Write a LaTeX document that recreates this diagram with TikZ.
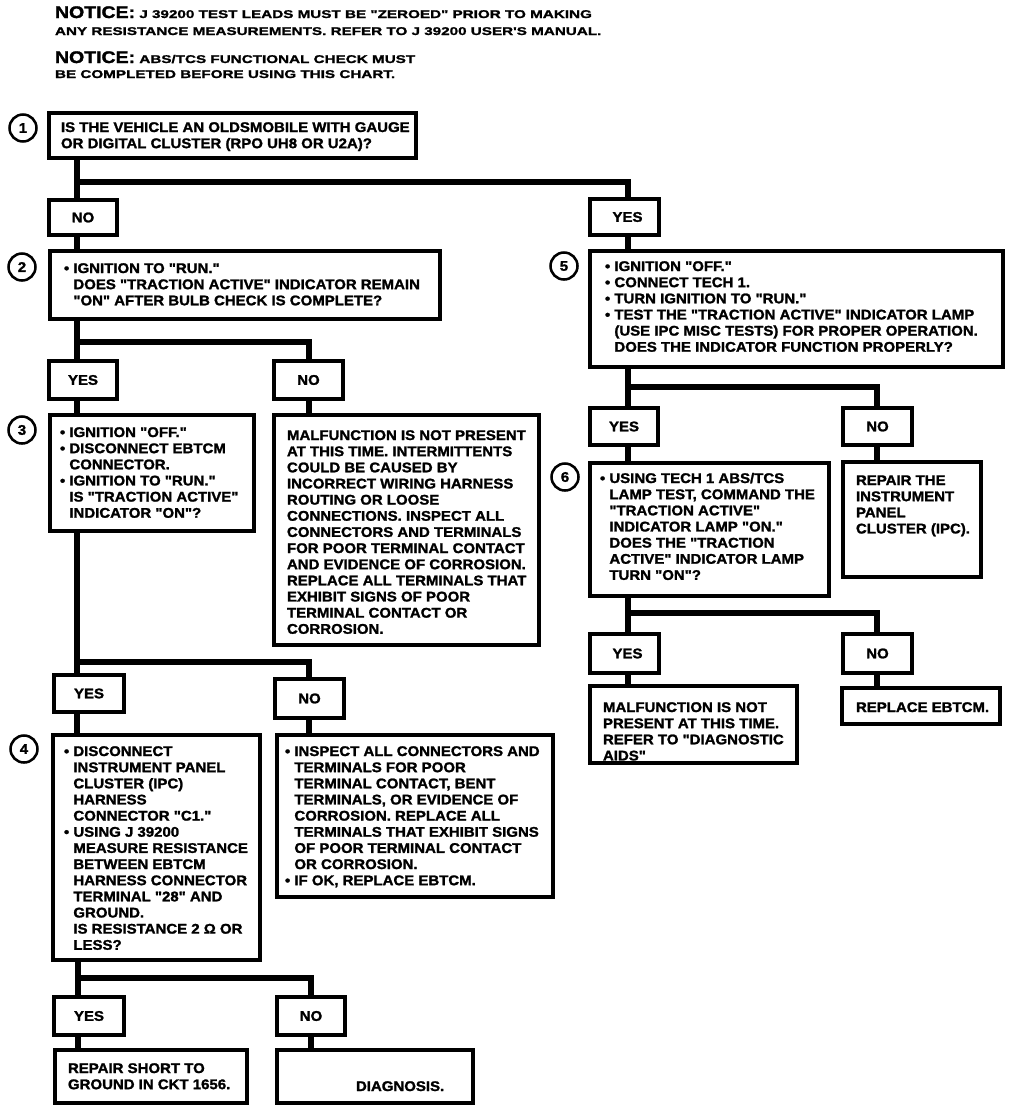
\documentclass[tikz,border=0pt]{standalone}
\usepackage{fontspec}
\newfontfamily\bodyf{Liberation Sans}[UprightFont=* Bold, FakeStretch=1.07, FakeBold=1.6]
\newfontfamily\ntbig{Liberation Sans}[UprightFont=* Bold, FakeStretch=1.16, FakeBold=1.8]
\newfontfamily\ntsm{Liberation Sans}[UprightFont=* Bold, FakeStretch=1.36, FakeBold=1.4]
\newdimen\px \px=0.75pt
\newcommand\bodyfont{\bodyf\fontsize{10.5}{12.11}\selectfont}
\newcommand\bigf{\ntbig\fontsize{12.6}{14}\selectfont}
\newcommand\smallf{\ntsm\fontsize{8.4}{10}\selectfont}
\newcommand\cind{\phantom{• }}
% width, height, left pad, first-baseline offset, lines
\newcommand\bxt[5]{\parbox[c][#2\px][t]{#1\px}{\bodyfont\vspace*{\dimexpr#4\px-0.7\baselineskip\relax}\hspace*{#3\px}\begin{tabular}[t]{@{}l@{}}#5\end{tabular}}}
\tikzset{
  box/.style={draw, line width=2.6pt, inner sep=0pt, outer sep=0pt, anchor=north west},
  lab/.style 2 args={draw, line width=2.6pt, inner sep=0pt, outer sep=0pt, anchor=north west, minimum width=#1*0.75pt, minimum height=#2*0.75pt, font=\bodyfont},
  conn/.style={line width=3.9pt},
  num/.style={circle, draw, line width=1.9pt, minimum size=27*0.75pt, inner sep=0pt, font=\bodyfont},
  ntext/.style={anchor=base west, inner sep=0pt, outer sep=0pt}
}
\begin{document}
\begin{tikzpicture}[x=0.75pt, y=-0.75pt]
\useasboundingbox[fill=white] (0,0) rectangle (1024,1110);

% notices
\node[ntext] (nt1) at (55,18) {\bigf NOTICE:\smallf\ J 39200 TEST LEADS MUST BE "ZEROED" PRIOR TO MAKING};
\node[ntext] (nt2) at (55,35) {\smallf ANY RESISTANCE MEASUREMENTS. REFER TO J 39200 USER'S MANUAL.};
\node[ntext] (nt3) at (55,63) {\bigf NOTICE:\smallf\ ABS/TCS FUNCTIONAL CHECK MUST};
\node[ntext] (nt4) at (55,78) {\smallf BE COMPLETED BEFORE USING THIS CHART.};

% left column
\node[num] (c1) at (23,128) {1};
\node[box] (b1) at (49,113) {\bxt{367}{45}{12}{19}{IS THE VEHICLE AN OLDSMOBILE WITH GAUGE\\OR DIGITAL CLUSTER (RPO UH8 OR U2A)?}};
\node[lab={68}{35}] (n1) at (49,200) {NO};
\node[lab={69}{36}] (y1) at (590,199) {\hspace{6\px}YES};

\node[num] (c2) at (22,267) {2};
\node[box] (b2) at (50,251) {\bxt{390}{68}{14}{22}{• IGNITION TO "RUN."\\\cind DOES "TRACTION ACTIVE" INDICATOR REMAIN\\\cind "ON" AFTER BULB CHECK IS COMPLETE?}};
\node[lab={68}{38}] (y2) at (49,361) {YES};
\node[lab={69}{38}] (n2) at (274,361) {NO\hspace{16\px}};

\node[num] (c3) at (22,430) {3};
\node[box] (b3) at (50,415) {\bxt{204}{116}{10}{22}{• IGNITION "OFF."\\• DISCONNECT EBTCM\\\cind CONNECTOR.\\• IGNITION TO "RUN."\\\cind IS "TRACTION ACTIVE"\\\cind INDICATOR "ON"?}};
\node[box] (m1) at (274,415) {\bxt{265}{230}{13}{25}{MALFUNCTION IS NOT PRESENT\\AT THIS TIME. INTERMITTENTS\\COULD BE CAUSED BY\\INCORRECT WIRING HARNESS\\ROUTING OR LOOSE\\CONNECTIONS. INSPECT ALL\\CONNECTORS AND TERMINALS\\FOR POOR TERMINAL CONTACT\\AND EVIDENCE OF CORROSION.\\REPLACE ALL TERMINALS THAT\\EXHIBIT SIGNS OF POOR\\TERMINAL CONTACT OR\\CORROSION.}};

\node[lab={70}{37}] (y3) at (54,675) {YES};
\node[lab={69}{39}] (n3) at (275,679) {NO\hspace{6\px}};

\node[num] (c4) at (24,749) {4};
\node[box] (b4) at (53,735) {\bxt{207}{225}{11}{21}{• DISCONNECT\\\cind INSTRUMENT PANEL\\\cind CLUSTER (IPC)\\\cind HARNESS\\\cind CONNECTOR "C1."\\• USING J 39200\\\cind MEASURE RESISTANCE\\\cind BETWEEN EBTCM\\\cind HARNESS CONNECTOR\\\cind TERMINAL "28" AND\\\cind GROUND.\\\cind IS RESISTANCE 2 Ω OR\\\cind LESS?}};
\node[box] (i1) at (277,735) {\bxt{276}{162}{8}{21}{• INSPECT ALL CONNECTORS AND\\\cind TERMINALS FOR POOR\\\cind TERMINAL CONTACT, BENT\\\cind TERMINALS, OR EVIDENCE OF\\\cind CORROSION. REPLACE ALL\\\cind TERMINALS THAT EXHIBIT SIGNS\\\cind OF POOR TERMINAL CONTACT\\\cind OR CORROSION.\\• IF OK, REPLACE EBTCM.}};

\node[lab={70}{38}] (y4) at (54,997) {YES};
\node[lab={68}{38}] (n4) at (277,997) {NO\hspace{8\px}};
\node[box] (r1) at (55,1050) {\bxt{192}{53}{13}{23}{REPAIR SHORT TO\\GROUND IN CKT 1656.}};
\node[box] (d1) at (277,1050) {\bxt{196}{53}{79}{41}{DIAGNOSIS.}};

% right column
\node[num] (c5) at (564,266) {5};
\node[box] (b5) at (590,251) {\bxt{413}{116}{15}{20}{• IGNITION "OFF."\\• CONNECT TECH 1.\\• TURN IGNITION TO "RUN."\\• TEST THE "TRACTION ACTIVE" INDICATOR LAMP\\\cind (USE IPC MISC TESTS) FOR PROPER OPERATION.\\\cind DOES THE INDICATOR FUNCTION PROPERLY?}};
\node[lab={68}{37}] (y5) at (590,408) {YES};
\node[lab={69}{37}] (n5) at (843,408) {NO\hspace{8\px}};

\node[num] (c6) at (565,477) {6};
\node[box] (b6) at (590,463) {\bxt{239}{133}{10}{20}{• USING TECH 1 ABS/TCS\\\cind LAMP TEST, COMMAND THE\\\cind "TRACTION ACTIVE"\\\cind INDICATOR LAMP "ON."\\\cind DOES THE "TRACTION\\\cind ACTIVE" INDICATOR LAMP\\\cind TURN "ON"?}};
\node[box] (ipc) at (843,462) {\bxt{138}{115}{13}{23}{REPAIR THE\\INSTRUMENT\\PANEL\\CLUSTER (IPC).}};

\node[lab={69}{39}] (y6) at (590,634) {\hspace{6\px}YES};
\node[lab={69}{39}] (n6) at (843,634) {NO\hspace{8\px}};
\node[box] (m2) at (590,686) {\bxt{207}{77}{13}{26}{MALFUNCTION IS NOT\\PRESENT AT THIS TIME.\\REFER TO "DIAGNOSTIC\\AIDS"}};
\node[box] (rep) at (842,688) {\bxt{158}{36}{14}{24}{REPLACE EBTCM.}};

% connectors
\coordinate (jA) at (77,182); \coordinate (jB) at (628,182);
\draw[conn] (b1.south -| jA) -- (n1.north -| jA);
\draw[conn] (jA) -- (jB) -- (y1.north -| jB);
\draw[conn] (n1.south -| jA) -- (b2.north -| jA);
\draw[conn] (y1.south -| jB) -- (b5.north -| jB);

\coordinate (jC) at (77,342); \coordinate (jD) at (309,342);
\draw[conn] (b2.south -| jC) -- (y2.north -| jC);
\draw[conn] (jC) -- (jD) -- (n2.north -| jD);
\draw[conn] (y2.south -| jC) -- (b3.north -| jC);
\draw[conn] (n2.south -| jD) -- (m1.north -| jD);

\coordinate (jE) at (77,662); \coordinate (jF) at (309,662);
\draw[conn] (b3.south -| jE) -- (y3.north -| jE);
\draw[conn] (jE) -- (jF) -- (n3.north -| jF);
\draw[conn] (y3.south -| jE) -- (b4.north -| jE);
\draw[conn] (n3.south -| jF) -- (i1.north -| jF);

\coordinate (jG) at (78,978); \coordinate (jH) at (311,978);
\draw[conn] (b4.south -| jG) -- (y4.north -| jG);
\draw[conn] (jG) -- (jH) -- (n4.north -| jH);
\draw[conn] (y4.south -| jG) -- (r1.north -| jG);
\draw[conn] (n4.south -| jH) -- (d1.north -| jH);

\coordinate (jI) at (628,387); \coordinate (jJ) at (877,387);
\draw[conn] (b5.south -| jI) -- (y5.north -| jI);
\draw[conn] (jI) -- (jJ) -- (n5.north -| jJ);
\draw[conn] (y5.south -| jI) -- (b6.north -| jI);
\draw[conn] (n5.south -| jJ) -- (ipc.north -| jJ);

\coordinate (jK) at (628,613); \coordinate (jL) at (877,613);
\draw[conn] (b6.south -| jK) -- (y6.north -| jK);
\draw[conn] (jK) -- (jL) -- (n6.north -| jL);
\draw[conn] (y6.south -| jK) -- (m2.north -| jK);
\draw[conn] (n6.south -| jL) -- (rep.north -| jL);
\end{tikzpicture}
\end{document}
